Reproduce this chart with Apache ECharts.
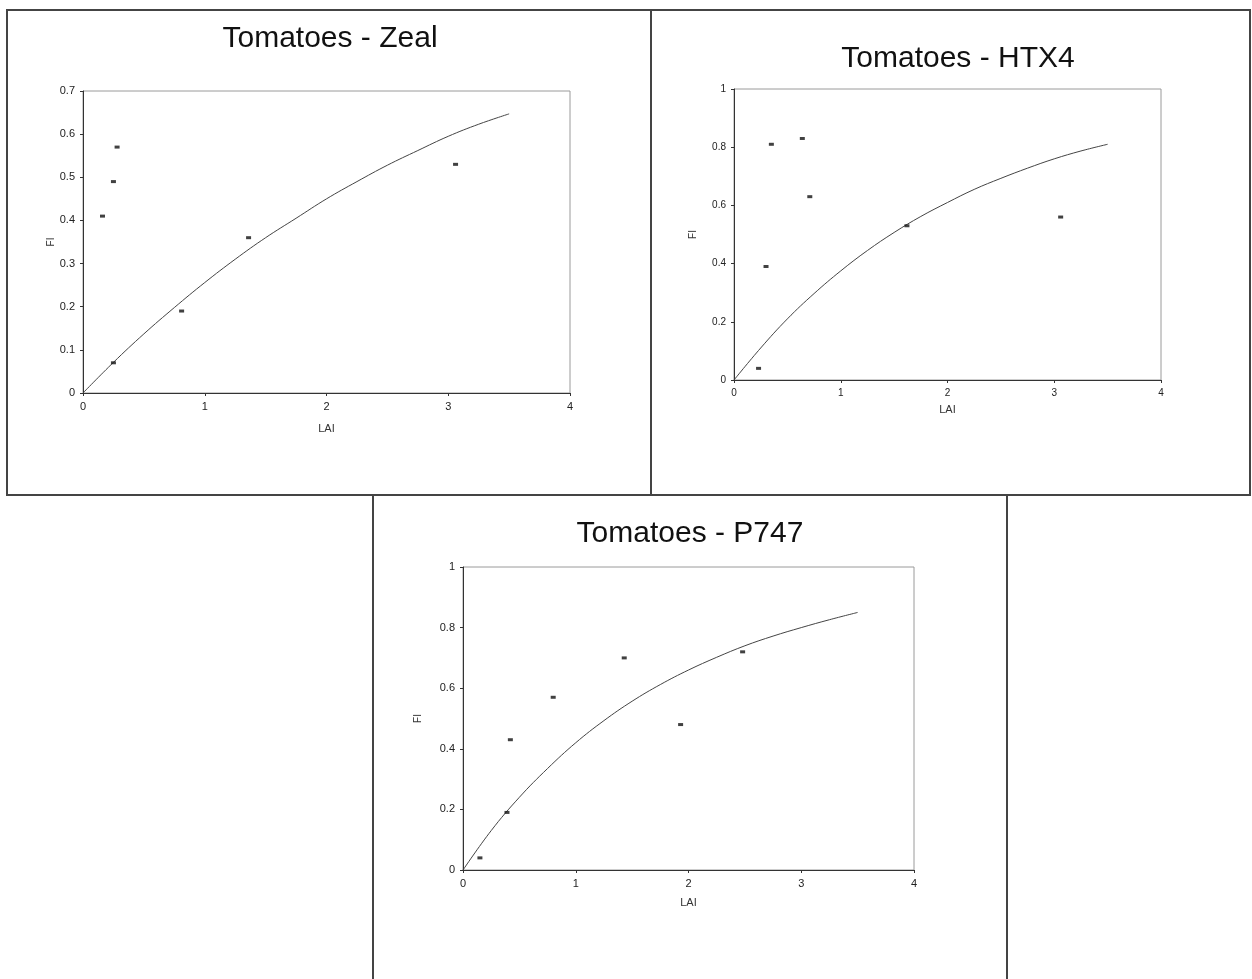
<!DOCTYPE html>
<html>
<head>
<meta charset="utf-8">
<script src="https://cdn.jsdelivr.net/npm/echarts@6/dist/echarts.min.js"></script>
<style>
html,body{margin:0;padding:0;background:#fff;}
#chart{width:1252px;height:979px;}
</style>
</head>
<body>
<div id="chart"></div>
<script>
// ---- data ----
const titles = ['Tomatoes - Zeal', 'Tomatoes - HTX4', 'Tomatoes - P747'];
const xTicks = [0, 1, 2, 3, 4];
const zealYTicks = [0, 0.1, 0.2, 0.3, 0.4, 0.5, 0.6, 0.7];
const unitYTicks = [0, 0.2, 0.4, 0.6, 0.8, 1];

const zealLAI = [0.16, 0.25, 0.28, 0.25, 0.81, 1.36, 3.06];
const zealFI  = [0.41, 0.49, 0.57, 0.07, 0.19, 0.36, 0.53];
const htx4LAI = [0.23, 0.30, 0.35, 0.64, 0.71, 1.62, 3.06];
const htx4FI  = [0.04, 0.39, 0.81, 0.83, 0.63, 0.53, 0.56];
const p747LAI = [0.15, 0.39, 0.42, 0.80, 1.43, 1.93, 2.48];
const p747FI  = [0.04, 0.19, 0.43, 0.57, 0.70, 0.48, 0.72];

// fitted curves, every 0.25 LAI
const curveLAI    = [0, 0.25, 0.5, 0.75, 1, 1.25, 1.5, 1.75, 2, 2.25, 2.5, 2.75, 3, 3.25, 3.5];
const zealCurveFI = [0, 0.071, 0.137, 0.198, 0.256, 0.31, 0.36, 0.405, 0.45, 0.49, 0.528, 0.562, 0.595, 0.623, 0.647];
const htx4CurveFI = [0, 0.11, 0.21, 0.297, 0.375, 0.445, 0.507, 0.562, 0.61, 0.655, 0.693, 0.728, 0.76, 0.787, 0.81];
const p747CurveFI = [0, 0.13, 0.24, 0.335, 0.42, 0.493, 0.557, 0.612, 0.66, 0.702, 0.74, 0.772, 0.80, 0.826, 0.85];

// ---- build ----
const zip = (a, b) => a.map((v, i) => [v, b[i]]);
const FONT = '"Liberation Sans", Arial, sans-serif';

const panels = [
  {grid: {left: 83, top: 91, width: 487, height: 302}, yTicks: zealYTicks,
   pts: zip(zealLAI, zealFI), curve: zip(curveLAI, zealCurveFI),
   title: {x: 330, y: 39}, fs: 11, yGap: 20, xGap: 30},
  {grid: {left: 734, top: 89, width: 427, height: 291}, yTicks: unitYTicks,
   pts: zip(htx4LAI, htx4FI), curve: zip(curveLAI, htx4CurveFI),
   title: {x: 958, y: 59}, fs: 10, yGap: 36, xGap: 24},
  {grid: {left: 463, top: 567, width: 451, height: 303}, yTicks: unitYTicks,
   pts: zip(p747LAI, p747FI), curve: zip(curveLAI, p747CurveFI),
   title: {x: 690, y: 534}, fs: 11, yGap: 40, xGap: 27}
];

const option = {
  backgroundColor: '#fff',
  animation: false,
  grid: panels.map(p => Object.assign({show: true, borderColor: '#9a9a9a', borderWidth: 1, backgroundColor: '#fff'}, p.grid)),
  xAxis: panels.map((p, i) => ({
    type: 'value', gridIndex: i,
    min: xTicks[0], max: xTicks[xTicks.length - 1], interval: xTicks[1] - xTicks[0],
    name: 'LAI', nameLocation: 'middle', nameGap: p.xGap,
    nameTextStyle: {fontFamily: FONT, fontSize: 11, color: '#333'},
    axisLine: {show: true, onZero: false, lineStyle: {color: '#333', width: 1}},
    axisTick: {show: true, length: 3, lineStyle: {color: '#333'}},
    axisLabel: {fontFamily: FONT, fontSize: p.fs, color: '#222', margin: 8},
    splitLine: {show: false}
  })),
  yAxis: panels.map((p, i) => ({
    type: 'value', gridIndex: i,
    min: p.yTicks[0], max: p.yTicks[p.yTicks.length - 1], interval: p.yTicks[1] - p.yTicks[0],
    name: 'FI', nameLocation: 'middle', nameGap: p.yGap, nameRotate: 90,
    nameTextStyle: {fontFamily: FONT, fontSize: 10, color: '#333'},
    axisLine: {show: true, onZero: false, lineStyle: {color: '#333', width: 1}},
    axisTick: {show: true, length: 3, lineStyle: {color: '#333'}},
    axisLabel: {fontFamily: FONT, fontSize: p.fs, color: '#222', margin: 8},
    splitLine: {show: false}
  })),
  series: [].concat(...panels.map((p, i) => [
    {type: 'line', xAxisIndex: i, yAxisIndex: i, data: p.curve, smooth: 0.4,
     showSymbol: false, symbol: 'none', lineStyle: {color: '#444', width: 1}, z: 2},
    {type: 'scatter', xAxisIndex: i, yAxisIndex: i, data: p.pts, symbol: 'rect', symbolSize: [5, 3],
     itemStyle: {color: '#111'}, z: 3}
  ])),
  graphic: [
    {type: 'rect', shape: {x: 7, y: 10, width: 644, height: 485}, style: {fill: 'none', stroke: '#444', lineWidth: 2}, z: -10},
    {type: 'rect', shape: {x: 651, y: 10, width: 599, height: 485}, style: {fill: 'none', stroke: '#444', lineWidth: 2}, z: -10},
    {type: 'rect', shape: {x: 373, y: 495, width: 634, height: 500}, style: {fill: '#fff', stroke: '#444', lineWidth: 2}, z: -9}
  ].concat(panels.map((p, i) => ({
    type: 'text', x: p.title.x, y: p.title.y, z: 10,
    style: {text: titles[i], fontFamily: FONT, fontSize: 30, fill: '#111', textAlign: 'center', textVerticalAlign: 'middle'}
  })))
};

const chart = echarts.init(document.getElementById('chart'), null, {renderer: 'canvas'});
chart.setOption(option);
</script>
</body>
</html>
